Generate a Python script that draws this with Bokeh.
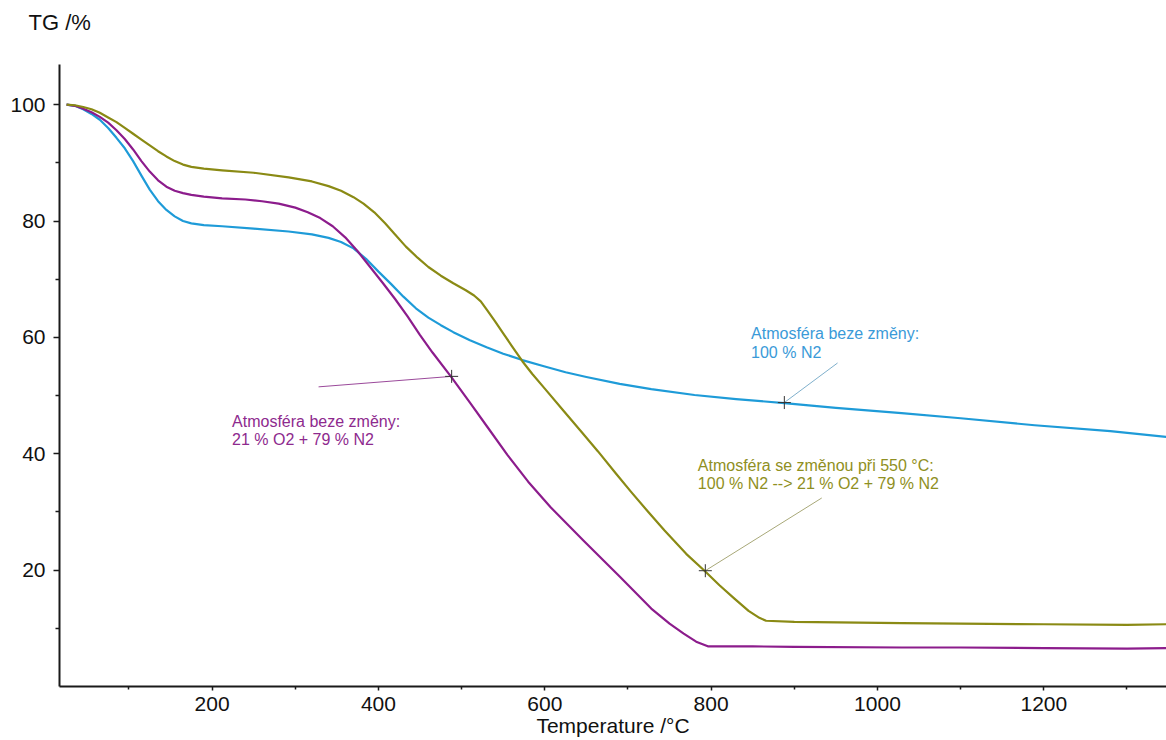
from bokeh.plotting import figure
from bokeh.models import FixedTicker, Range1d, Label, Title
from bokeh.embed import file_html
from bokeh.resources import INLINE

# ---------------- data ----------------
# Atmosféra beze změny: 100 % N2 (blue)
n2_t = [25, 35, 45, 55, 65, 75, 85, 95, 105, 115, 125, 135, 145, 155, 165, 175, 190,
        212, 250, 292, 320, 340, 355, 370, 385, 400, 415, 430, 445, 460, 475, 490,
        510, 530, 550, 573, 600, 625, 650, 690, 728, 780, 830, 888, 950, 1029, 1100,
        1189, 1280, 1348]
n2_tg = [100, 99.8, 99.2, 98.4, 97.4, 96.0, 94.3, 92.5, 90.3, 87.8, 85.4, 83.4, 81.9,
         80.8, 80.0, 79.6, 79.3, 79.1, 78.7, 78.2, 77.7, 77.1, 76.4, 75.3, 73.5, 71.3,
         69.2, 67.0, 65.0, 63.4, 62.1, 60.9, 59.5, 58.3, 57.2, 56.1, 55.0, 54.0, 53.2,
         52.0, 51.1, 50.1, 49.4, 48.7, 47.9, 47.0, 46.1, 44.9, 43.9, 42.9]

# Atmosféra beze změny: 21 % O2 + 79 % N2 (purple)
air_t = [25, 35, 45, 55, 65, 75, 85, 95, 105, 115, 125, 135, 145, 155, 165, 175, 190,
         212, 240, 260, 280, 300, 315, 330, 345, 360, 375, 390, 405, 420, 435, 450,
         465, 487, 510, 531, 555, 580, 607, 647, 690, 728, 750, 767, 782, 796, 850,
         900, 1029, 1100, 1200, 1300, 1348]
air_tg = [100, 99.8, 99.3, 98.7, 97.9, 96.9, 95.6, 94.1, 92.3, 90.3, 88.5, 87.0, 85.9,
          85.2, 84.8, 84.5, 84.2, 83.9, 83.7, 83.4, 83.0, 82.3, 81.5, 80.5, 79.1, 77.2,
          74.8, 72.1, 69.4, 66.6, 63.6, 60.4, 57.4, 53.3, 48.8, 44.6, 39.8, 35.2, 30.8,
          25.0, 18.9, 13.4, 10.8, 9.1, 7.7, 6.9, 6.9, 6.8, 6.7, 6.7, 6.6, 6.5, 6.6]

# Atmosféra se změnou při 550 °C (olive)
chg_t = [25, 35, 45, 55, 65, 75, 85, 95, 105, 115, 125, 135, 145, 155, 165, 175, 190,
         212, 250, 292, 320, 340, 355, 370, 382, 395, 408, 420, 433, 447, 460, 475,
         490, 505, 515, 523, 530, 540, 550, 560, 573, 585, 600, 623, 645, 664, 685,
         704, 725, 744, 770, 792, 810, 828, 845, 858, 866, 900, 1029, 1100, 1200,
         1300, 1348]
chg_tg = [100, 99.9, 99.6, 99.2, 98.6, 97.8, 97.0, 96.0, 95.0, 94.0, 93.0, 92.0, 91.1,
          90.3, 89.7, 89.3, 89.0, 88.7, 88.3, 87.5, 86.8, 86.0, 85.2, 84.1, 83.0, 81.5,
          79.6, 77.7, 75.6, 73.7, 72.1, 70.6, 69.3, 68.1, 67.2, 66.2, 64.8, 62.8, 60.7,
          58.6, 55.9, 53.7, 51.2, 47.3, 43.6, 40.4, 36.7, 33.4, 29.9, 26.8, 22.8, 19.9,
          17.4, 15.1, 13.0, 11.8, 11.3, 11.1, 10.9, 10.8, 10.7, 10.6, 10.7]

x_major = [200, 400, 600, 800, 1000, 1200]
x_minor = [100, 300, 500, 700, 900, 1100, 1300]
y_major = [20, 40, 60, 80, 100]
y_minor = [10, 30, 50, 70, 90]

# annotations: point on curve, leader end, text anchor, text lines
ann_point_t = [488, 888, 793]
ann_point_tg = [53.3, 48.8, 19.9]
ann_text_t = [328, 952, 933]
ann_text_tg = [51.5, 55.6, 32.4]
ann_label_t = [224, 848, 784]
ann_label_tg = [45.6, 60.6, 38.0]
ann_lines = [["Atmosféra beze změny:", "21 % O2 + 79 % N2"],
             ["Atmosféra beze změny:", "100 % N2"],
             ["Atmosféra se změnou při 550 °C:", "100 % N2 --> 21 % O2 + 79 % N2"]]

y_title = "TG /%"
x_title = "Temperature /°C"

C_BLUE = "#1e9bd8"
C_PURP = "#8c1c8c"
C_OLIV = "#8a8a14"
txt_colors = ["#8e2a8e", "#3a9ad8", "#8f8f22"]
lead_colors = ["#9b4a9b", "#7fb0cc", "#a8a878"]

FONT = "Liberation Sans"

p = figure(width=1166, height=740, output_backend="svg", toolbar_location=None,
           x_range=Range1d(16.5, 1347.5), y_range=Range1d(0, 106.9),
           min_border_left=59, min_border_right=0, min_border_top=64,
           min_border_bottom=54, background_fill_color="white",
           border_fill_color="white")
p.outline_line_color = None
p.grid.visible = False

# spacer panel between the frame and the title, so the title sits higher
p.add_layout(Title(text=" ", text_font_size="1px", standoff=25), "above")

p.title.text = y_title
p.title.text_font = FONT
p.title.text_font_size = "22px"
p.title.text_font_style = "normal"
p.title.text_color = "#111111"
p.title.align = "left"
p.title.vertical_align = "top"
p.title.offset = -31
p.title.standoff = 0

for ax in (p.xaxis[0], p.yaxis[0]):
    ax.axis_line_color = "#1a1a1a"
    ax.axis_line_width = 2
    ax.major_tick_line_color = "#1a1a1a"
    ax.minor_tick_line_color = "#1a1a1a"
    ax.major_tick_line_width = 1.5
    ax.minor_tick_line_width = 1.5
    ax.major_tick_in = 0
    ax.minor_tick_in = 0
    ax.major_label_text_font = FONT
    ax.major_label_text_font_size = "21px"
    ax.major_label_text_color = "#111111"
    ax.axis_label_text_font = FONT
    ax.axis_label_text_font_size = "21px"
    ax.axis_label_text_font_style = "normal"
    ax.axis_label_text_color = "#111111"

p.xaxis.ticker = FixedTicker(ticks=x_major, minor_ticks=x_minor)
p.yaxis.ticker = FixedTicker(ticks=y_major, minor_ticks=y_minor)
p.xaxis.major_tick_out = 4
p.xaxis.minor_tick_out = 3
p.yaxis.major_tick_out = 6
p.yaxis.minor_tick_out = 4
p.xaxis.major_label_standoff = 6
p.yaxis.major_label_standoff = 8
p.xaxis.axis_label = x_title
p.xaxis.axis_label_standoff = 0

p.line(n2_t, n2_tg, line_color=C_BLUE, line_width=2.2, line_join="round")
p.line(air_t, air_tg, line_color=C_PURP, line_width=2.2, line_join="round")
p.line(chg_t, chg_tg, line_color=C_OLIV, line_width=2.2, line_join="round")

# leader lines
for i in range(3):
    p.line([ann_point_t[i], ann_text_t[i]], [ann_point_tg[i], ann_text_tg[i]],
           line_color=lead_colors[i], line_width=1)

p.scatter(ann_point_t, ann_point_tg, marker="cross", size=13, line_color="#333333",
          line_width=1)

for i in range(3):
    for j, line in enumerate(ann_lines[i]):
        p.add_layout(Label(x=ann_label_t[i], y=ann_label_tg[i], y_offset=-18.5 * j,
                           text=line, text_font=FONT, text_font_size="16px",
                           text_color=txt_colors[i], text_baseline="alphabetic",
                           text_align="left"))

open("out.html", "w").write(file_html(p, INLINE))
